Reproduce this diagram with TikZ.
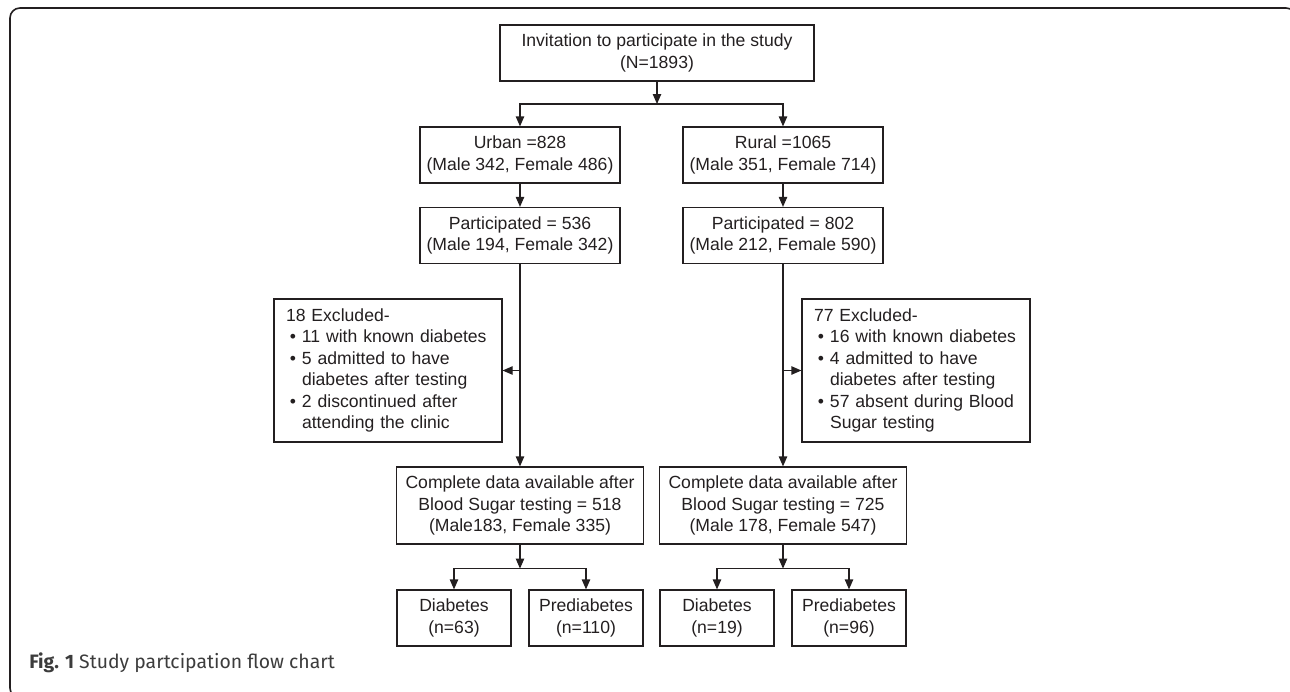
\documentclass[tikz,border=0pt]{standalone}
\usepackage{fontspec}
\setmainfont{Liberation Sans}
\newfontfamily\captionfont{Fira Sans}
\usepackage{xcolor}
\usetikzlibrary{arrows.meta,positioning}
\definecolor{inkgray}{RGB}{35,31,32}
\definecolor{captiongray}{RGB}{60,60,60}
\newcommand{\bulitem}{\makebox[10pt][r]{\textbullet\hspace{3pt}}}
\newcommand{\bulcont}{\makebox[10pt]{}}

\begin{document}
\begin{tikzpicture}[>={Triangle[length=5pt,width=4.2pt]},line width=0.6pt,color=inkgray,
    font=\fontsize{8.8}{10.7}\selectfont,
    main box/.style={rectangle,draw,align=center,inner sep=2pt,minimum width=100pt,minimum height=28pt},
    excl box/.style={rectangle,draw,align=left,text width=106pt,inner xsep=4pt,minimum height=71.5pt},
    end box/.style={rectangle,draw,align=center,inner sep=2pt,minimum width=57pt,minimum height=28pt}]
  \useasboundingbox (0,0) rectangle (645pt,-345.5pt);
  % Frame
  \draw[line width=0.8pt,rounded corners=5pt] (5pt,-4pt) rectangle (648pt,-349pt);

  % Nodes
  \node[main box,minimum width=157pt] (invite) at (328.5pt,-26.5pt) {Invitation to participate in the study\\(N=1893)};
  \node[main box] (urban) at (260pt,-77.5pt) {Urban =828\\ (Male 342, Female 486)};
  \node[main box,node distance=131.5pt] (rural) [right of = urban] {Rural =1065\\ (Male 351, Female 714)};
  \node[main box,node distance=40.25pt] (upart) [below of = urban] {Participated = 536\\ (Male 194, Female 342)};
  \node[main box,node distance=40.25pt] (rpart) [below of = rural] {Participated = 802\\ (Male 212, Female 590)};
  \node[excl box] (uexcl) at (194pt,-185.25pt) {\hspace*{2pt}18 Excluded-\\
    \bulitem 11 with known diabetes\\
    \bulitem 5 admitted to have\\
    \bulcont diabetes after testing\\
    \bulitem 2 discontinued after\\
    \bulcont attending the clinic};
  \node[excl box] (rexcl) at (458pt,-185.25pt) {\hspace*{2pt}77 Excluded-\\
    \bulitem 16 with known diabetes\\
    \bulitem 4 admitted to have\\
    \bulcont diabetes after testing\\
    \bulitem 57 absent during Blood\\
    \bulcont Sugar testing};
  \node[main box,minimum width=123.5pt,minimum height=38.5pt,node distance=135pt] (ucomp) [below of = upart] {Complete data available after\\ Blood Sugar testing = 518\\ (Male183, Female 335)};
  \node[main box,minimum width=123.5pt,minimum height=38.5pt,node distance=135pt] (rcomp) [below of = rpart] {Complete data available after\\ Blood Sugar testing = 725\\ (Male 178, Female 547)};
  \node[end box,node distance=56.25pt,xshift=-33pt] (udiab) [below of = ucomp] {Diabetes\\(n=63)};
  \node[end box,node distance=56.25pt,xshift=33pt] (upre) [below of = ucomp] {Prediabetes\\(n=110)};
  \node[end box,node distance=56.25pt,xshift=-33pt] (rdiab) [below of = rcomp] {Diabetes\\(n=19)};
  \node[end box,node distance=56.25pt,xshift=33pt] (rpre) [below of = rcomp] {Prediabetes\\(n=96)};

  \node[anchor=west,font=\captionfont\fontsize{9.7}{11}\selectfont,text=captiongray] (caption) at (11pt,-331.5pt) {\textbf{Fig. 1} Study partcipation flow chart};

  % Split points
  \coordinate (topsplit) at (328.5pt,-52pt);
  \coordinate (ubranch) at (upart.south |- uexcl.east);
  \coordinate (rbranch) at (rpart.south |- rexcl.west);
  \path (ucomp.south) ++(0,-12pt) coordinate (usplit);
  \path (rcomp.south) ++(0,-12pt) coordinate (rsplit);

  % Edges
  \draw[->] (invite) -- (topsplit);
  \draw[->] (topsplit) -| (urban);
  \draw[->] (topsplit) -| (rural);
  \draw[->] (urban) -- (upart);
  \draw[->] (rural) -- (rpart);
  \draw[->] (upart) -- (ucomp);
  \draw[->] (rpart) -- (rcomp);
  \draw[->] (ubranch) -- (uexcl);
  \draw[->] (rbranch) -- (rexcl);
  \draw[->] (ucomp) -- (usplit);
  \draw[->] (usplit) -| (udiab);
  \draw[->] (usplit) -| (upre);
  \draw[->] (rcomp) -- (rsplit);
  \draw[->] (rsplit) -| (rdiab);
  \draw[->] (rsplit) -| (rpre);
\end{tikzpicture}
\end{document}
